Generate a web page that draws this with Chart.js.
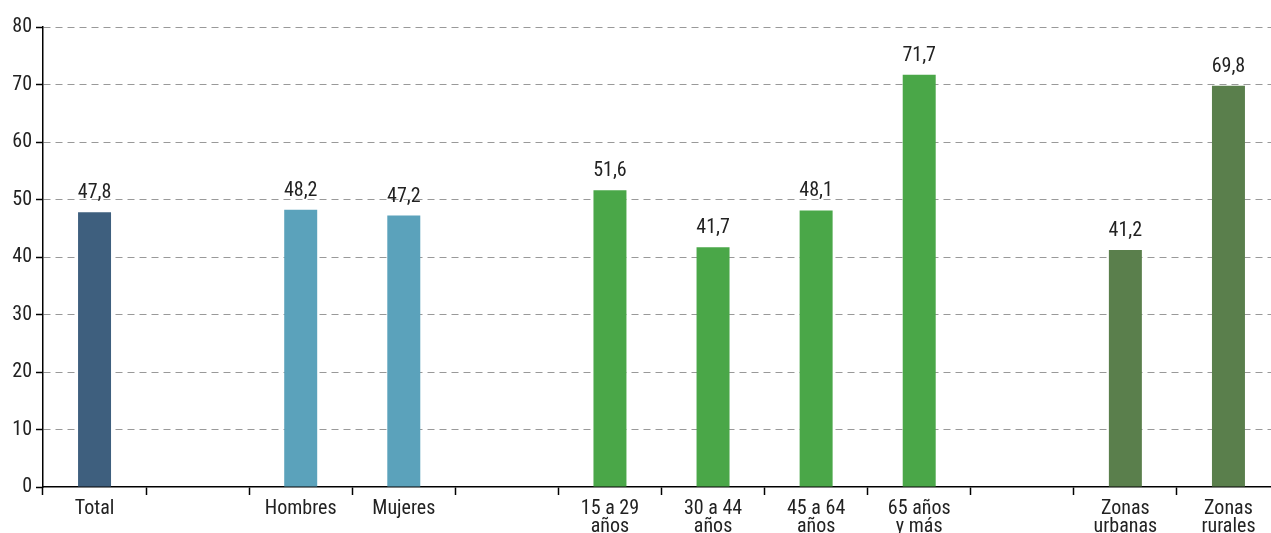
<!DOCTYPE html>
<html>
<head>
<meta charset="utf-8">
<script src="https://cdn.jsdelivr.net/npm/chart.js@4/dist/chart.umd.min.js"></script>
<style>
  html, body { margin: 0; padding: 0; overflow: hidden; background: #fff; }
  #wrap { width: 1280px; height: 533px; position: relative; }
</style>
</head>
<body>
<div id="wrap"><canvas id="grafico"></canvas></div>
<script>
// Datos del gráfico
const categorias = [
    'Total', '', 'Hombres', 'Mujeres', '',
    ['15 a 29', 'años'], ['30 a 44', 'años'], ['45 a 64', 'años'], ['65 años', 'y más'],
    '', ['Zonas', 'urbanas'], ['Zonas', 'rurales']
];
const valores = [47.8, null, 48.2, 47.2, null, 51.6, 41.7, 48.1, 71.7, null, 41.2, 69.8];
const colores = [
    '#3e5f7e', null, '#5ba2bb', '#5ba2bb', null,
    '#4aa748', '#4aa748', '#4aa748', '#4aa748',
    null, '#5a7f4c', '#5a7f4c'
];
const ticksY = [0, 10, 20, 30, 40, 50, 60, 70, 80];

const fuente = "'Roboto Condensed', 'Liberation Sans Narrow', Roboto, sans-serif";

// Plugin para escribir el valor encima de cada barra (coma decimal)
const etiquetasValor = {
    id: 'etiquetasValor',
    afterDatasetsDraw(chart) {
        const ctx = chart.ctx;
        const meta = chart.getDatasetMeta(0);
        ctx.save();
        ctx.font = '20px ' + fuente;
        ctx.fillStyle = '#222';
        ctx.textAlign = 'center';
        ctx.textBaseline = 'alphabetic';
        meta.data.forEach((barra, i) => {
            const v = valores[i];
            if (v === null) return;
            ctx.fillText(v.toFixed(1).replace('.', ','), barra.x, barra.y - 14);
        });
        ctx.restore();
    }
};

const ctx = document.getElementById('grafico').getContext('2d');
new Chart(ctx, {
    type: 'bar',
    data: {
        labels: categorias,
        datasets: [{
            data: valores,
            backgroundColor: colores,
            borderWidth: 0,
            categoryPercentage: 1,
            barPercentage: 0.32
        }]
    },
    options: {
        responsive: true,
        maintainAspectRatio: false,
        animation: false,
        layout: { padding: { top: 27, right: 0, bottom: 0, left: 0 } },
        plugins: {
            legend: { display: false },
            tooltip: { enabled: false }
        },
        scales: {
            x: {
                offset: true,
                afterFit: (scale) => { scale.height = 46; },
                grid: {
                    offset: true,
                    drawOnChartArea: false,
                    drawTicks: true,
                    tickLength: 8,
                    tickColor: '#000',
                    tickWidth: 1.5
                },
                border: { display: true, color: '#000', width: 1.5 },
                ticks: {
                    color: '#222',
                    font: { family: fuente, size: 20, lineHeight: 0.9 },
                    padding: 5,
                    maxRotation: 0,
                    autoSkip: false
                }
            },
            y: {
                min: 0,
                max: 80,
                afterBuildTicks: (scale) => {
                    scale.ticks = ticksY.map(v => ({ value: v }));
                },
                afterFit: (scale) => { scale.width = 43; },
                grid: {
                    color: (c) => (c.tick && c.tick.value === 0) ? 'rgba(0,0,0,0)' : '#999',
                    lineWidth: 1,
                    drawTicks: true,
                    tickLength: 7,
                    tickColor: '#000',
                    tickBorderDash: [],
                    tickWidth: 1.5
                },
                border: { display: true, color: '#000', width: 1.5, dash: [7, 5] },
                ticks: {
                    color: '#222',
                    font: { family: fuente, size: 20 },
                    padding: 4
                }
            }
        }
    },
    plugins: [etiquetasValor]
});
</script>
</body>
</html>
